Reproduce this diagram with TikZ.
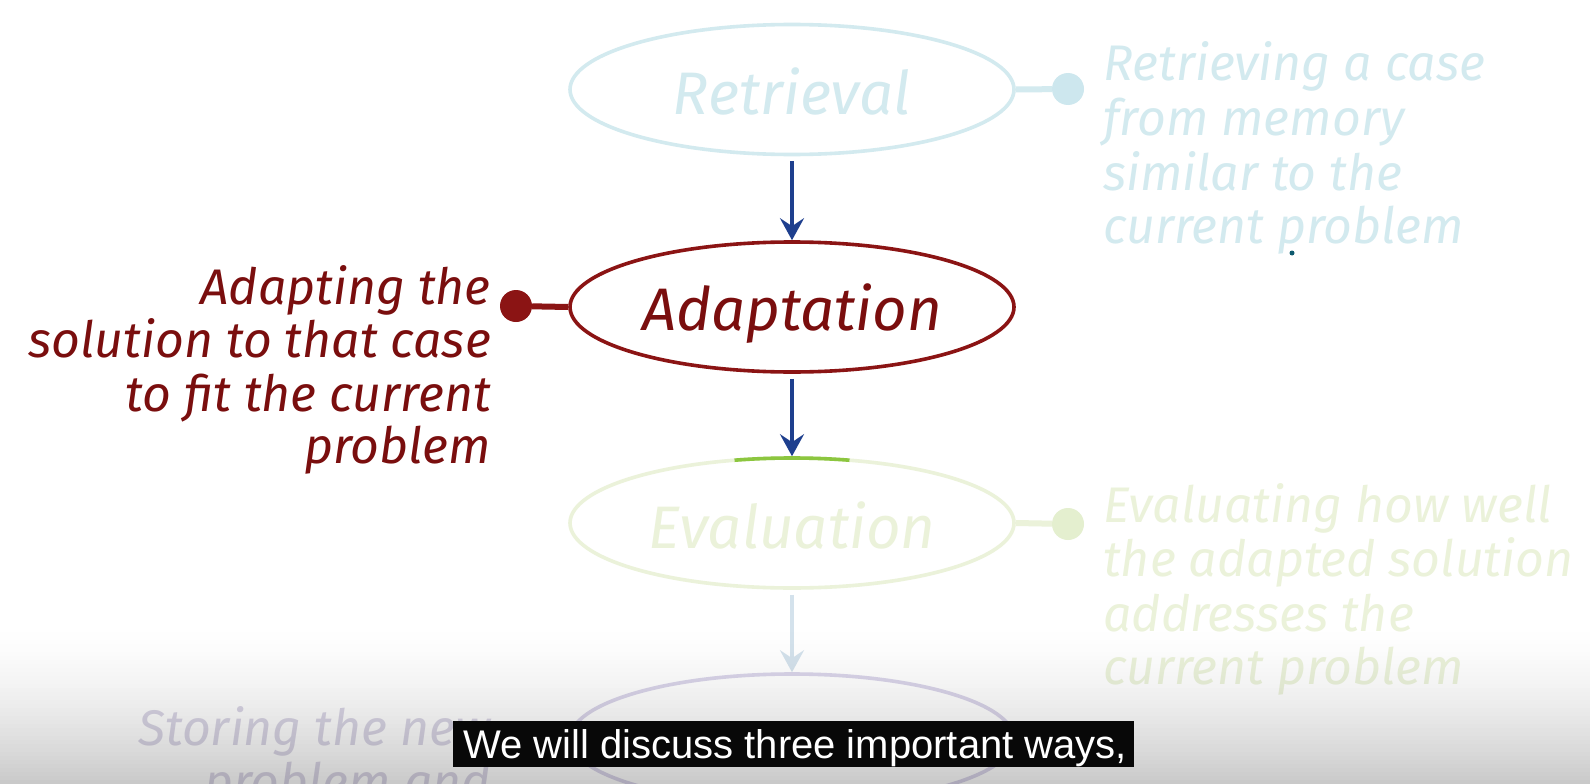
\documentclass[tikz,border=0pt]{standalone}
\usepackage{fontspec}
\newfontfamily\hand{Fira Sans}
\newfontfamily\subfont{Liberation Sans}
\usetikzlibrary{shapes.geometric,arrows.meta}
\definecolor{retc}{HTML}{D3EAEF}
\definecolor{retdotc}{HTML}{CDE7EE}
\definecolor{adc}{HTML}{8B1414}
\definecolor{adtext}{HTML}{7A0E0E}
\definecolor{arrc}{HTML}{1E3F8E}
\definecolor{evc}{HTML}{EBF2DA}
\definecolor{evdotc}{HTML}{E4EFCF}
\definecolor{evhi}{HTML}{8CC63F}
\definecolor{arrthree}{HTML}{D4E2EC}
\definecolor{stc}{HTML}{DAD5EA}
\definecolor{sttext}{HTML}{DAD6E6}
\definecolor{specc}{HTML}{0E5A6E}
\begin{document}
\begin{tikzpicture}[x=1pt,y=-1pt,
  stage/.style={ellipse, draw, line width=3.6pt, minimum width=444pt, minimum height=130pt, inner sep=0pt},
  dotnode/.style={circle, inner sep=0pt, minimum size=32pt},
  link/.style={line width=6pt},
  flow/.style={line width=4.5pt, -{Stealth[length=22pt,width=24pt,inset=8pt]}, shorten <=5pt},
  lab/.style={font=\hand\itshape\fontsize{50}{54}\selectfont, inner sep=0pt},
  big/.style={font=\hand\itshape\fontsize{60}{62}\selectfont, inner sep=0pt},
  subbox/.style={fill=black!97, inner sep=0pt, minimum width=681pt, minimum height=46pt}
]
\useasboundingbox (0,0) rectangle (1590,784);
\fill[white] (0,0) rectangle (1590,784);

% stages
\node[stage, draw=retc] (ret) at (792,89.5) {};
\node[stage, draw=adc] (ada) at (792,307) {};
\node[stage, draw=evc] (eva) at (792,523) {};
\node[stage, draw=stc] (sto) at (792,739) {};

% stage labels
\node[big, text=retc, anchor=base] (retl) at (792,114) {Retrieval};
\node[big, text=adtext, anchor=base] (adal) at (792,330) {Adaptation};
\node[big, text=evc, anchor=base] (eval) at (792,548) {Evaluation};

% green highlight on evaluation
\draw[evhi, line width=3.6pt] (eva.center) ++(255:222 and 65) arc[start angle=255, end angle=285, x radius=222, y radius=65];

% flow arrows
\draw[flow, arrc] (ret.south) -- (ada.north);
\draw[flow, arrc] (ada.south) -- (eva.north);
\draw[flow, arrthree] (eva.south) -- (sto.north);

% dots and links
\node[dotnode, fill=retdotc] (retd) at (1068,89) {};
\draw[link, retc] (ret.east) -- (retd);
\node[dotnode, fill=adc] (adad) at (516,306) {};
\draw[link, adc] (ada.west) -- (adad);
\node[dotnode, fill=evdotc] (evad) at (1068,524) {};
\draw[link, evc] (eva.east) -- (evad);
\node[dotnode, fill=stc] (stod) at (516,739) {};
\draw[link, stc] (sto.west) -- (stod);

% retrieval description
\node[lab, text=retc, anchor=base west] (rt1) at (1103,81) {Retrieving a case};
\node[lab, text=retc, anchor=base west] (rt2) at (1103,135) {from memory};
\node[lab, text=retc, anchor=base west] (rt3) at (1103,190) {similar to the};
\node[lab, text=retc, anchor=base west] (rt4) at (1103,243) {current problem};
\fill[specc] (1292,253) circle (2.5pt);

% adaptation description
\node[lab, text=adtext, anchor=base east] (at1) at (491,304) {Adapting the};
\node[lab, text=adtext, anchor=base east] (at2) at (491,357) {solution to that case};
\node[lab, text=adtext, anchor=base east] (at3) at (491,411) {to fit the current};
\node[lab, text=adtext, anchor=base east] (at4) at (491,463) {problem};

% evaluation description
\node[lab, text=evc, anchor=base west] (et1) at (1103,522) {Evaluating how well};
\node[lab, text=evc, anchor=base west] (et2) at (1103,576) {the adapted solution};
\node[lab, text=evc, anchor=base west] (et3) at (1103,631) {addresses the};
\node[lab, text=evc, anchor=base west] (et4) at (1103,684) {current problem};

% storage description
\node[lab, text=sttext, anchor=base east] (st1) at (491,745) {Storing the new};
\node[lab, text=sttext, anchor=base east] (st2) at (491,799) {problem and};

% bottom gray gradient
\foreach \i in {0,...,40} {
  \pgfmathsetmacro\yy{620+4*\i}
  \pgfmathsetmacro\op{0.21*(\i/40)^1.6}
  \fill[black, opacity=\op] (0,\yy) rectangle (1590,\yy+4.3);
}

% subtitle
\node[subbox] (sub) at (793.5,744) {};
\node[font=\subfont\fontsize{40}{40}\selectfont, text=white, anchor=base west, inner sep=0pt] (subt) at (463,758) {We will discuss three important ways,};
\end{tikzpicture}
\end{document}
